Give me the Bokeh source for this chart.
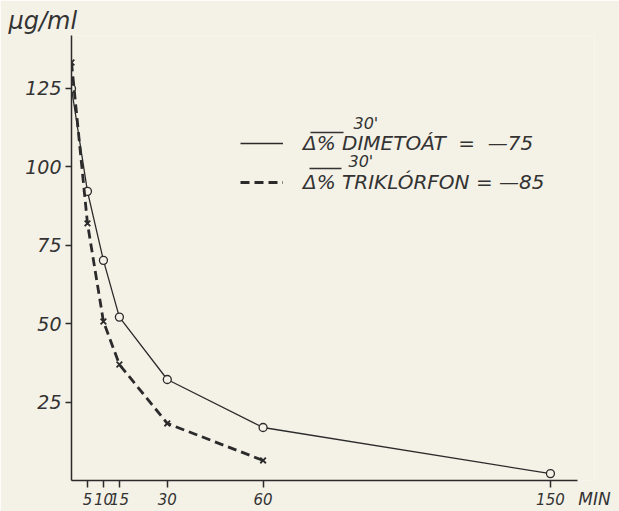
from bokeh.plotting import figure
from bokeh.models import (Range1d, FixedTicker, Legend, LegendItem, Label, Arrow)
from bokeh.embed import file_html
from bokeh.resources import INLINE

# ---- data ----
times_dim = [0, 5, 10, 15, 30, 60, 150]
dimetoat = [125, 92.2, 70.2, 52.1, 32.2, 16.9, 2.2]
times_tri = [0, 5, 10, 15, 30, 60]
triklorfon = [133.3, 82, 50.7, 37, 18.2, 6.4]
x_ticks = [5, 10, 15, 30, 60, 150]
y_ticks = [25, 50, 75, 100, 125]
label_dim = "Δ% DIMETOÁT  =  —75"
label_tri = "Δ% TRIKLÓRFON = —85"
sup_text = "30'"
y_unit = "μg/ml"
x_unit = "MIN"

BG = "#f4f1e7"
INK = "#2b2b2b"
TXT = "#333333"
FONT = "DejaVu Sans"

p = figure(width=619, height=511, output_backend="svg", toolbar_location=None,
           x_range=Range1d(0, 163.8), y_range=Range1d(0, 141.9),
           min_border_left=71, min_border_right=25, min_border_top=35,
           min_border_bottom=31)
p.background_fill_color = BG
p.border_fill_color = BG
p.outline_line_color = None
p.grid.visible = False

p.title.text = y_unit
p.title.align = "left"
p.title.offset = -63
p.title.standoff = 2
p.title.text_font = FONT
p.title.text_font_style = "italic"
p.title.text_font_size = "24px"
p.title.text_color = TXT

for ax in (p.xaxis[0], p.yaxis[0]):
    ax.axis_line_color = INK
    ax.axis_line_width = 1.5
    ax.major_tick_line_color = INK
    ax.major_tick_line_width = 1.5
    ax.minor_tick_line_color = None
    ax.major_tick_in = 0
    ax.major_label_text_font = FONT
    ax.major_label_text_font_style = "italic"
    ax.major_label_text_color = TXT

p.xaxis.ticker = FixedTicker(ticks=x_ticks)
p.yaxis.ticker = FixedTicker(ticks=y_ticks)
p.xaxis.bounds = (0, 158.5)
p.xaxis.major_tick_out = 7
p.xaxis.major_label_standoff = 5
p.xaxis.major_label_text_font_size = "15px"
p.yaxis.major_tick_out = 6
p.yaxis.major_label_standoff = 4
p.yaxis.major_label_text_font_size = "19px"

p.xaxis.axis_label = x_unit
p.xaxis.axis_label_align = "end"
p.xaxis.axis_label_standoff = -19
p.xaxis.axis_label_text_font = FONT
p.xaxis.axis_label_text_font_style = "italic"
p.xaxis.axis_label_text_font_size = "17px"
p.xaxis.axis_label_text_color = TXT

r_dim = p.line(times_dim, dimetoat, line_color=INK, line_width=1.3)
p.scatter(times_dim, dimetoat, marker="circle", size=8, fill_color=BG,
          line_color=INK, line_width=1.3)
r_tri = p.line(times_tri, triklorfon, line_color=INK, line_width=2.8,
               line_dash="9 5")
p.scatter(times_tri, triklorfon, marker="x", size=8, line_color=INK,
          line_width=1.8)

legend = Legend(items=[LegendItem(label=label_dim, renderers=[r_dim]),
                       LegendItem(label=label_tri, renderers=[r_tri])],
                location=(169, 286), padding=0, margin=0, spacing=15,
                glyph_width=43, glyph_height=24, label_height=24,
                label_standoff=20, border_line_color=None,
                background_fill_alpha=0,
                label_text_font=FONT, label_text_font_style="italic",
                label_text_font_size="20px", label_text_color=TXT)
p.add_layout(legend, "center")

# superscripts and overlines of the legend
for sx, sy in [(282, 357), (277, 319)]:
    p.add_layout(Label(x=sx, y=sy, x_units="screen", y_units="screen",
                       text=sup_text, text_font=FONT, text_font_style="italic",
                       text_font_size="16px", text_color=TXT,
                       text_baseline="middle"))
for x0, x1, yy in [(239, 272, 348), (238, 270, 312)]:
    p.add_layout(Arrow(end=None, x_start=x0, y_start=yy, x_end=x1, y_end=yy,
                       start_units="screen", end_units="screen",
                       line_color=TXT, line_width=1.3))

open("out.html", "w").write(file_html(p, INLINE))
